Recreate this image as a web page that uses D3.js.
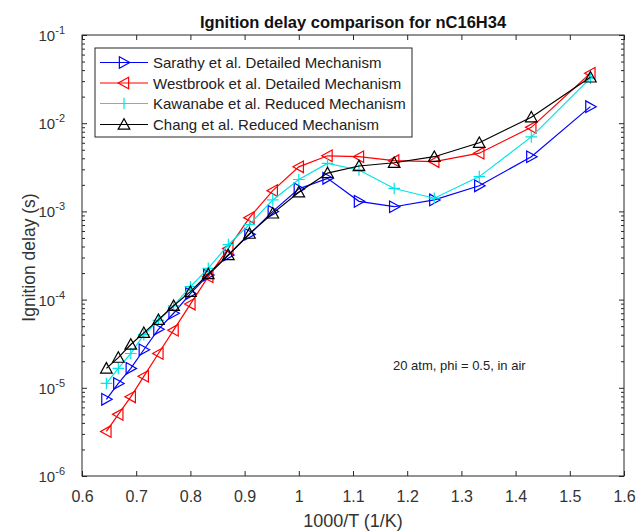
<!DOCTYPE html>
<html>
<head>
<meta charset="utf-8">
<script src="https://cdn.jsdelivr.net/npm/d3@7"></script>
<style>
  html, body { margin: 0; padding: 0; background: #fff; }
  svg { display: block; font-family: "Liberation Sans", Arial, Helvetica, sans-serif; }
</style>
</head>
<body>
<svg id="chart" width="639" height="532"></svg>
<script>
// ---------------- data ----------------
const invT = [0.645, 0.667, 0.690, 0.714, 0.741, 0.769, 0.800, 0.833, 0.870, 0.909, 0.952, 1.000, 1.053, 1.111, 1.176, 1.250, 1.333, 1.429, 1.538];

const sarathy   = [7.4e-6, 1.12e-5, 1.66e-5, 2.7e-5, 4.6e-5, 7.0e-5, 1.17e-4, 1.9e-4, 3.2e-4, 5.5e-4, 1.0e-3, 1.8e-3, 2.37e-3, 1.3e-3, 1.13e-3, 1.35e-3, 1.95e-3, 4.17e-3, 1.54e-2];
const westbrook = [3.2e-6, 5.0e-6, 7.9e-6, 1.35e-5, 2.45e-5, 4.5e-5, 8.9e-5, 1.82e-4, 3.8e-4, 8.5e-4, 1.72e-3, 3.2e-3, 4.27e-3, 4.17e-3, 3.76e-3, 3.67e-3, 4.57e-3, 8.97e-3, 3.68e-2];
const kawanabe  = [1.12e-5, 1.66e-5, 2.45e-5, 4.0e-5, 5.8e-5, 8.5e-5, 1.4e-4, 2.26e-4, 4.2e-4, 7.1e-4, 1.35e-3, 2.3e-3, 3.5e-3, 2.95e-3, 1.82e-3, 1.41e-3, 2.48e-3, 7.0e-3, 3.24e-2];
const chang     = [1.66e-5, 2.2e-5, 3.1e-5, 4.2e-5, 5.9e-5, 8.5e-5, 1.23e-4, 1.95e-4, 3.2e-4, 5.6e-4, 9.5e-4, 1.65e-3, 2.72e-3, 3.27e-3, 3.56e-3, 4.17e-3, 6.0e-3, 1.17e-2, 3.31e-2];

const seriesNames = ["Sarathy et al. Detailed Mechanism", "Westbrook et al. Detailed Mechanism", "Kawanabe et al. Reduced Mechanism", "Chang et al. Reduced Mechanism"];
const seriesColors = ["#0000ff", "#ff0000", "#00e5e5", "#000000"];
const seriesMarkers = ["right", "left", "plus", "up"];
const seriesValues = [sarathy, westbrook, kawanabe, chang];

const xTicks = [0.6, 0.7, 0.8, 0.9, 1.0, 1.1, 1.2, 1.3, 1.4, 1.5, 1.6];
const xTickLabels = ["0.6", "0.7", "0.8", "0.9", "1", "1.1", "1.2", "1.3", "1.4", "1.5", "1.6"];
const yTicks = [1e-6, 1e-5, 1e-4, 1e-3, 1e-2, 1e-1];
const yTickExps = ["-6", "-5", "-4", "-3", "-2", "-1"];

const titleText = "Ignition delay comparison for nC16H34";
const xLabelText = "1000/T (1/K)";
const yLabelText = "Ignition delay (s)";
const noteText = "20 atm, phi = 0.5, in air";

// ---------------- layout ----------------
const L = 82, R = 624, T = 35, B = 476;
const svg = d3.select("#chart");
const axisColor = "#262626";

const x = d3.scaleLinear().domain([0.6, 1.6]).range([L, R]);
const y = d3.scaleLog().domain([1e-6, 1e-1]).range([B, T]);

svg.append("rect").attr("width", 639).attr("height", 532).attr("fill", "#fff");

// minor ticks (log)
const minor = [];
for (let e = -6; e < -1; e++) for (let m = 2; m <= 9; m++) minor.push(m * Math.pow(10, e));

const g = svg.append("g");

// x axis bottom
const xAxisB = d3.axisBottom(x).tickValues(xTicks).tickFormat((d, i) => xTickLabels[i]).tickSize(-5).tickPadding(15);
const gxb = g.append("g").attr("transform", `translate(0,${B})`).call(xAxisB);
gxb.select(".domain").remove();
gxb.selectAll("line").attr("stroke", axisColor);
gxb.selectAll("text").attr("font-size", 16).attr("fill", "#333").attr("font-family", "Liberation Sans, Arial, sans-serif");

// x axis top (ticks only)
const xAxisT = d3.axisTop(x).tickValues(xTicks).tickFormat("").tickSize(-5);
const gxt = g.append("g").attr("transform", `translate(0,${T})`).call(xAxisT);
gxt.select(".domain").remove();
gxt.selectAll("line").attr("stroke", axisColor);

// y axis left major
const yAxisL = d3.axisLeft(y).tickValues(yTicks).tickFormat("").tickSize(-5);
const gyl = g.append("g").attr("transform", `translate(${L},0)`).call(yAxisL);
gyl.select(".domain").remove();
gyl.selectAll("line").attr("stroke", axisColor);
const yAxisLm = d3.axisLeft(y).tickValues(minor).tickFormat("").tickSize(-3);
const gylm = g.append("g").attr("transform", `translate(${L},0)`).call(yAxisLm);
gylm.select(".domain").remove();
gylm.selectAll("line").attr("stroke", axisColor);

// y axis right
const yAxisR = d3.axisRight(y).tickValues(yTicks).tickFormat("").tickSize(-5);
const gyr = g.append("g").attr("transform", `translate(${R},0)`).call(yAxisR);
gyr.select(".domain").remove();
gyr.selectAll("line").attr("stroke", axisColor);
const yAxisRm = d3.axisRight(y).tickValues(minor).tickFormat("").tickSize(-3);
const gyrm = g.append("g").attr("transform", `translate(${R},0)`).call(yAxisRm);
gyrm.select(".domain").remove();
gyrm.selectAll("line").attr("stroke", axisColor);

// y tick labels 10^n
yTicks.forEach((v, i) => {
  const t = svg.append("text").attr("x", L - 17).attr("y", y(v) + 6)
    .attr("text-anchor", "end").attr("fill", "#333").attr("font-size", 15);
  t.append("tspan").text("10");
  t.append("tspan").attr("font-size", 11).attr("dy", -7).text(yTickExps[i]);
});

// box
svg.append("rect").attr("x", L).attr("y", T).attr("width", R - L).attr("height", B - T)
  .attr("fill", "none").attr("stroke", axisColor).attr("stroke-width", 1);

// ---------------- series ----------------
const MS = 5.8;
function markerPath(type, s) {
  if (type === "right") return `M${-s * 0.8},${-s}L${s},0L${-s * 0.8},${s}Z`;
  if (type === "left") return `M${s * 0.8},${-s}L${-s},0L${s * 0.8},${s}Z`;
  if (type === "up") return `M${-s},${s * 0.8}L0,${-s}L${s},${s * 0.8}Z`;
  if (type === "plus") return `M${-s},0L${s},0M0,${-s}L0,${s}`;
  return "";
}

const line = d3.line().x(d => x(d[0])).y(d => y(d[1]));
seriesValues.forEach((vals, k) => {
  const pts = invT.map((xv, i) => [xv, vals[i]]);
  const sg = svg.append("g");
  sg.append("path").attr("d", line(pts)).attr("fill", "none")
    .attr("stroke", seriesColors[k]).attr("stroke-width", 1.2);
  sg.selectAll("path.m").data(pts).enter().append("path").attr("class", "m")
    .attr("transform", d => `translate(${x(d[0])},${y(d[1])})`)
    .attr("d", markerPath(seriesMarkers[k], MS))
    .attr("fill", "none").attr("stroke", seriesColors[k]).attr("stroke-width", 1.2);
});

// ---------------- legend ----------------
const lg = svg.append("g");
lg.append("rect").attr("x", 95).attr("y", 48).attr("width", 317).attr("height", 89)
  .attr("fill", "#fff").attr("stroke", axisColor).attr("stroke-width", 1);
const rowY = [62.5, 83, 103.5, 124.5];
seriesNames.forEach((name, k) => {
  lg.append("line").attr("x1", 100).attr("x2", 148).attr("y1", rowY[k]).attr("y2", rowY[k])
    .attr("stroke", seriesColors[k]).attr("stroke-width", 1.2);
  lg.append("path").attr("transform", `translate(124,${rowY[k]})`)
    .attr("d", markerPath(seriesMarkers[k], MS)).attr("fill", "none")
    .attr("stroke", seriesColors[k]).attr("stroke-width", 1.2);
  lg.append("text").attr("x", 153).attr("y", rowY[k] + 5.5).attr("font-size", 15)
    .attr("fill", "#222").text(name);
});

// ---------------- texts ----------------
svg.append("text").attr("x", (L + R) / 2).attr("y", 28).attr("text-anchor", "middle")
  .attr("font-size", 16.5).attr("font-weight", "bold").attr("fill", "#111").text(titleText);
svg.append("text").attr("x", (L + R) / 2).attr("y", 527).attr("text-anchor", "middle")
  .attr("font-size", 18).attr("fill", "#333").text(xLabelText);
svg.append("text").attr("transform", `translate(35,${(T + B) / 2 + 2}) rotate(-90)`).attr("text-anchor", "middle")
  .attr("font-size", 17.5).attr("fill", "#333").text(yLabelText);
svg.append("text").attr("x", 393).attr("y", 370).attr("font-size", 13)
  .attr("fill", "#222").text(noteText);
</script>
</body>
</html>
